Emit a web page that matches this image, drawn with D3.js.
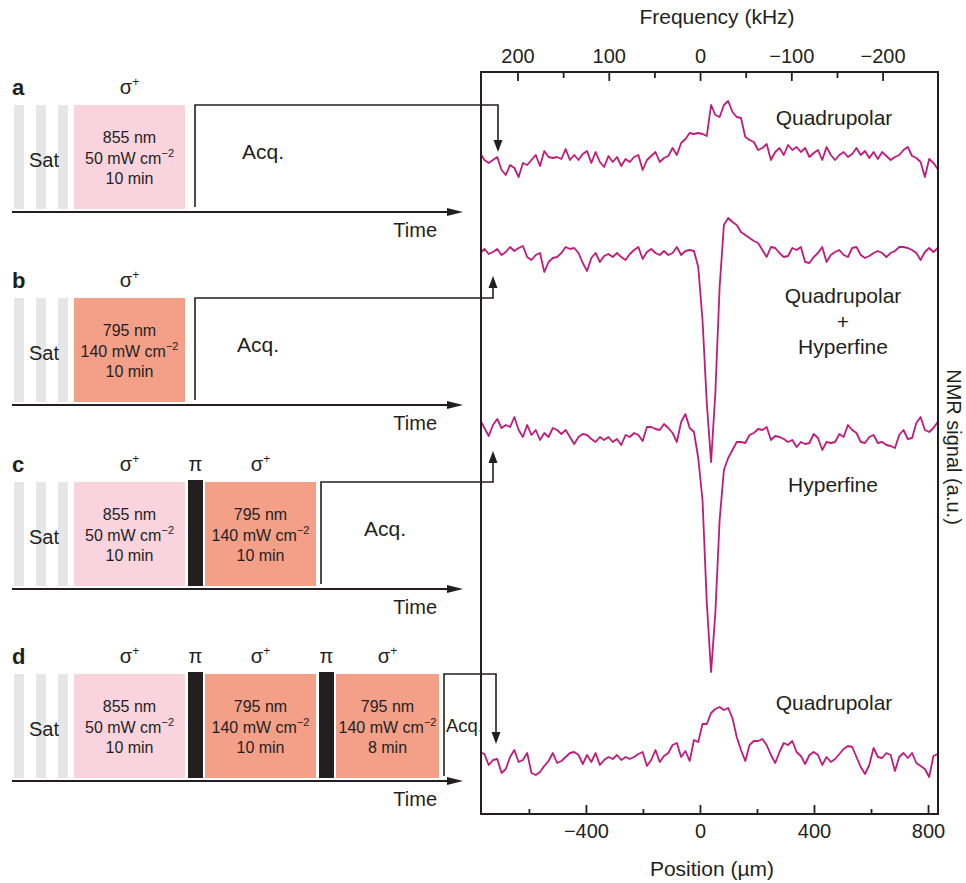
<!DOCTYPE html>
<html lang="en">
<head>
  <meta charset="UTF-8">
  <title>NMR spectra after optical pumping</title>
  <script src="https://cdn.jsdelivr.net/npm/d3@7"></script>
  <style>
    body { margin: 0; background: #fff; }
    svg { font-family: "Liberation Sans", Arial, Helvetica, sans-serif; }
    text { fill: #231f20; }
    .tick line { stroke: #231f20; stroke-width: 1.8px; }
  </style>
</head>
<body>
<svg id="chart" width="966" height="883"></svg>
<script>
  // ---- spectra data ----
  // traces sampled every 15 um starting at -771 um, values are signal (a.u.) relative to each trace baseline
  const positionStart = -771
  const positionStep = 15
  const freqTicks = [200, 100, 0, -100, -200]
  const freqMinorTicks = [150, 50, -50, -150]
  const posTicks = [-400, 0, 400, 800]
  const posMinorTicks = [-600, -200, 200, 600]
  const traceOffsets = [657, 559, 382, 54]

  const traceA = [4, -3, -6, -3, 0, -13, -18, -8, -11, -20, -6, -8, -3, 2, -9, 6, 0, -1, 0, -2,
    8, -3, 2, -3, 3, 6, -6, 5, -5, -10, 1, -5, 0, -9, -2, -5, 0, 2, -13, -3,
    1, 5, -5, -1, 1, 9, 2, 14, 18, 24, 23, 24, 23, 21, 52, 42, 40, 52, 56, 45,
    40, 39, 20, 17, 15, 7, 9, 13, -3, 5, 9, 2, 12, 7, 10, 5, 9, 0, 4, 7,
    -3, 10, 2, -3, 2, 5, 0, 3, 9, 2, 6, -1, 5, -2, 5, 1, -3, 0, 2, 7,
    10, 1, -1, -5, -20, -2, -6, -12]
  const traceB = [2, 6, 1, 3, 6, 0, 3, 8, 4, 7, 9, -2, -5, 0, 2, -17, -7, -3, -2, 2,
    8, 6, 7, 2, -8, -16, -3, 2, -7, -1, 1, -2, 2, -2, -5, 1, 5, 8, -4, 3,
    6, 2, 0, 4, 0, 2, 8, 0, 4, 5, 4, -12, -65, -148, -207, -138, -32, 30, 37, 33,
    30, 23, 20, 17, 14, 12, 5, -2, 8, 7, 2, -2, -1, 7, 5, 8, -7, -8, -2, 2,
    8, -7, 0, 3, 5, 0, -2, 7, 8, 0, -3, -1, 2, 4, 2, -2, 2, 4, 8, 8,
    7, 5, 2, -5, 3, 7, 3, 7]
  const traceC = [12, 4, -4, 7, 13, 4, 7, 5, 15, 2, -5, 7, -3, 2, -8, -1, -5, 4, 2, -2,
    2, -5, -12, -5, -2, -3, -7, -10, -5, -8, -5, -10, -7, -13, -3, -5, -1, -3, -9, 5,
    5, 3, 2, 8, 4, -1, -10, 10, 18, 4, 0, -26, -68, -171, -240, -181, -88, -38, -26, -18,
    -10, -10, -11, -3, -1, 3, 2, 5, -8, -4, -5, -7, -10, -8, -15, -10, -12, -11, -2, -6,
    -18, -10, -11, -10, -2, -5, 7, 2, -1, -10, -11, -5, -3, -11, -10, -13, -14, -16, -3, 2,
    -7, -6, 9, 15, 2, 0, 4, 10]
  const traceD = [8, 6, -5, 0, 1, -13, -9, 3, 10, -2, 0, 7, -13, -15, -12, -6, -1, 7, -3, -1,
    3, 7, 8, 5, -4, 5, -2, 7, -5, 0, 3, 1, 5, 0, 3, 1, 3, 6, 8, -6,
    0, 10, -2, 4, 7, 15, 17, 3, 9, -1, 20, 18, 36, 36, 47, 51, 53, 50, 52, 42,
    23, 10, -1, 15, 19, 19, 21, 15, 5, -3, 8, 17, 15, 19, 8, 4, -4, 5, 8, 5,
    -5, 3, -2, 1, 6, 11, 14, 13, 3, -7, -14, -5, 12, 3, 2, 7, 5, -11, 3, 7,
    2, 7, -3, -6, -9, -17, 4, 6]
  const traceLabels = [['Quadrupolar'], ['Quadrupolar', '+', 'Hyperfine'], ['Hyperfine'], ['Quadrupolar']]

  // ---- pulse sequence data ----
  const panelLetters = ['a', 'b', 'c', 'd']
  const panelSteps = [
    [{ nm: 855, power: 50, min: 10 }],
    [{ nm: 795, power: 140, min: 10 }],
    [{ nm: 855, power: 50, min: 10 }, 'π', { nm: 795, power: 140, min: 10 }],
    [{ nm: 855, power: 50, min: 10 }, 'π', { nm: 795, power: 140, min: 10 }, 'π', { nm: 795, power: 140, min: 8 }]
  ]

  // ---- layout ----
  const plot = { left: 481, right: 938, top: 72, bottom: 814 }
  const panelTop = [105, 298, 482, 674]
  const arrowX = [498, 493, 493, 496]
  const arrowTip = [152, 276, 451, 744]
  const acqDx = [47, 42, 43, 2]
  const labelPos = [[834, 125], [843, 303], [833, 492], [834, 710]]
  const satStripes = [14, 36, 58]
  const ink = '#231f20'
  const traceColor = '#c01a7a'
  const pumpFill = { 855: '#f9d4de', 795: '#f4a089' }

  const svg = d3.select('#chart')

  const xPos = d3.scaleLinear().domain([-768, 835]).range([plot.left, plot.right])
  const xFreq = d3.scaleLinear().domain([240, -260.7]).range([plot.left, plot.right])
  const ySig = d3.scaleLinear().domain([0, 742]).range([plot.bottom, plot.top])
  const pumpWidth = d3.scaleLinear().domain([8, 10]).range([103, 111])

  svg.append('defs').append('clipPath').attr('id', 'clip')
    .append('rect')
    .attr('x', plot.left).attr('y', plot.top)
    .attr('width', plot.right - plot.left).attr('height', plot.bottom - plot.top)

  // traces
  let traces = [traceA, traceB, traceC, traceD]
  traces.forEach((vals, k) => {
    let line = d3.line()
      .x((d, i) => xPos(positionStart + i * positionStep))
      .y(d => ySig(traceOffsets[k] + d))
    svg.append('path')
      .datum(vals)
      .attr('clip-path', 'url(#clip)')
      .attr('d', line)
      .attr('fill', 'none')
      .attr('stroke', traceColor)
      .attr('stroke-width', 1.8)
      .attr('stroke-linejoin', 'round')
  })

  // trace labels
  traceLabels.forEach((lines, k) => {
    lines.forEach((t, j) => {
      svg.append('text')
        .attr('x', labelPos[k][0])
        .attr('y', labelPos[k][1] + j * 25.5)
        .attr('text-anchor', 'middle')
        .attr('font-size', 21)
        .text(t)
    })
  })

  // frame
  svg.append('rect')
    .attr('x', plot.left).attr('y', plot.top)
    .attr('width', plot.right - plot.left).attr('height', plot.bottom - plot.top)
    .attr('fill', 'none').attr('stroke', ink).attr('stroke-width', 2)

  function styleAxis(g) {
    g.select('.domain').remove()
    g.attr('font-family', null).attr('font-size', null)
    g.selectAll('text').attr('font-size', 20).attr('fill', ink)
  }

  // top frequency axis
  svg.append('g')
    .attr('transform', `translate(0,${plot.top})`)
    .call(d3.axisTop(xFreq).tickValues(freqTicks).tickSizeInner(-9).tickSizeOuter(0).tickPadding(9))
    .call(styleAxis)
  svg.append('g')
    .attr('transform', `translate(0,${plot.top})`)
    .call(d3.axisTop(xFreq).tickValues(freqMinorTicks).tickSizeInner(-6).tickSizeOuter(0).tickFormat(''))
    .call(styleAxis)

  // bottom position axis
  svg.append('g')
    .attr('transform', `translate(0,${plot.bottom})`)
    .call(d3.axisBottom(xPos).tickValues(posTicks).tickSizeInner(-9).tickSizeOuter(0).tickPadding(10))
    .call(styleAxis)
  svg.append('g')
    .attr('transform', `translate(0,${plot.bottom})`)
    .call(d3.axisBottom(xPos).tickValues(posMinorTicks).tickSizeInner(-5).tickSizeOuter(0).tickFormat(''))
    .call(styleAxis)

  svg.append('text')
    .attr('x', 717).attr('y', 24)
    .attr('text-anchor', 'middle').attr('font-size', 21)
    .text('Frequency (kHz)')
  svg.append('text')
    .attr('x', 712).attr('y', 876)
    .attr('text-anchor', 'middle').attr('font-size', 21)
    .text('Position (µm)')
  svg.append('text')
    .attr('transform', 'translate(947,447) rotate(90)')
    .attr('text-anchor', 'middle').attr('font-size', 20)
    .text('NMR signal (a.u.)')

  // ---- pulse sequences ----
  function sigmaLabel(g, x, y) {
    let t = g.append('text').attr('x', x).attr('y', y)
      .attr('text-anchor', 'middle').attr('font-size', 20)
    t.append('tspan').text('σ')
    t.append('tspan').attr('font-size', 12).attr('dy', -8).text('+')
  }

  panelLetters.forEach((letter, p) => {
    let top = panelTop[p]
    let g = svg.append('g')

    g.append('text')
      .attr('x', 12).attr('y', top - 10)
      .attr('font-size', 22).attr('font-weight', 'bold')
      .text(letter)

    // saturation
    satStripes.forEach(sx => {
      g.append('rect')
        .attr('x', sx).attr('y', top)
        .attr('width', 10).attr('height', 104)
        .attr('fill', '#e6e6e6')
    })
    g.append('text')
      .attr('x', 44).attr('y', top + 62)
      .attr('text-anchor', 'middle').attr('font-size', 20)
      .text('Sat')

    // pumping steps and pi pulses
    let cx = 74
    panelSteps[p].forEach(s => {
      if (s === 'π') {
        cx += 3
        g.append('rect')
          .attr('x', cx).attr('y', top - 2)
          .attr('width', 15).attr('height', 106)
          .attr('fill', ink)
        g.append('text')
          .attr('x', cx + 7.5).attr('y', top - 11)
          .attr('text-anchor', 'middle').attr('font-size', 20)
          .text('π')
        cx += 17
      } else {
        let w = pumpWidth(s.min)
        g.append('rect')
          .attr('x', cx).attr('y', top)
          .attr('width', w).attr('height', 104)
          .attr('fill', pumpFill[s.nm])
        sigmaLabel(g, cx + w / 2, top - 11)
        let mid = cx + w / 2
        g.append('text').attr('x', mid).attr('y', top + 38)
          .attr('text-anchor', 'middle').attr('font-size', 16)
          .text(s.nm + ' nm')
        let pw = g.append('text').attr('x', mid).attr('y', top + 59)
          .attr('text-anchor', 'middle').attr('font-size', 16)
        pw.append('tspan').text(s.power + ' mW cm')
        pw.append('tspan').attr('font-size', 11).attr('dy', -7).text('−2')
        g.append('text').attr('x', mid).attr('y', top + 79)
          .attr('text-anchor', 'middle').attr('font-size', 16)
          .text(s.min + ' min')
        cx += w
      }
    })

    // acquisition and link to its spectrum
    let acqX = cx + (panelSteps[p].length === 1 ? 10 : 5)
    let tip = arrowTip[p]
    let dir = tip > top ? 1 : -1
    g.append('path')
      .attr('d', `M${acqX},${top + 102} V${top} H${arrowX[p]} V${tip - dir * 10}`)
      .attr('fill', 'none').attr('stroke', ink).attr('stroke-width', 1.6)
    g.append('path')
      .attr('d', `M${arrowX[p] - 4.5},${tip - dir * 12} L${arrowX[p]},${tip} L${arrowX[p] + 4.5},${tip - dir * 12} Z`)
      .attr('fill', ink)
    g.append('text')
      .attr('x', acqX + acqDx[p]).attr('y', top + (p === 3 ? 58 : 54))
      .attr('font-size', p === 3 ? 18.5 : 21)
      .text('Acq.')

    // time axis
    let ay = top + 107
    g.append('line')
      .attr('x1', 12).attr('x2', 450).attr('y1', ay).attr('y2', ay)
      .attr('stroke', ink).attr('stroke-width', 2)
    g.append('path')
      .attr('d', `M447,${ay - 4} L463,${ay} L447,${ay + 4} Z`)
      .attr('fill', ink)
    g.append('text')
      .attr('x', 437).attr('y', ay + 25)
      .attr('text-anchor', 'end').attr('font-size', 20)
      .text('Time')
  })
</script>
</body>
</html>
